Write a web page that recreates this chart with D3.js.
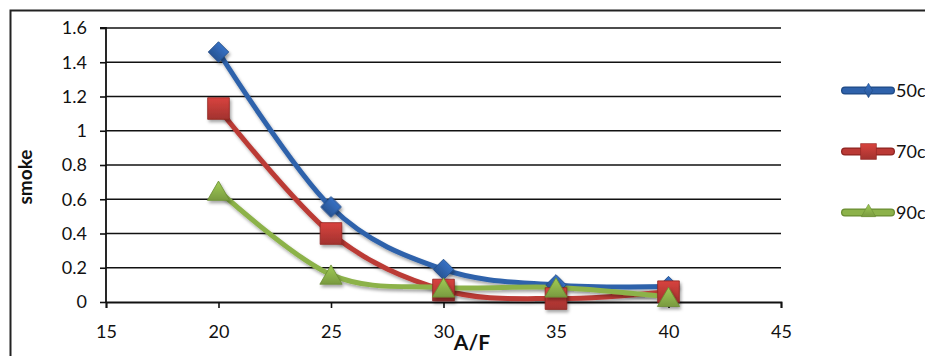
<!DOCTYPE html>
<html>
<head>
<meta charset="utf-8">
<script src="https://cdn.jsdelivr.net/npm/d3@7/dist/d3.min.js"></script>
<style>
  html, body { margin: 0; padding: 0; background: #fff; }
  svg { display: block; }
  text { font-family: Lato, "Open Sans", sans-serif; fill: #111; }
</style>
</head>
<body>
<svg id="chart" width="925" height="356"></svg>
<script>
// A/F ratio on x, smoke on y
const afRatio = [20, 25, 30, 35, 40];
const smoke50 = [1.46, 0.555, 0.19, 0.10, 0.09];
const smoke70 = [1.13, 0.40, 0.07, 0.02, 0.06];
const smoke90 = [0.65, 0.16, 0.085, 0.085, 0.03];
const seriesNames = ["50c", "70c", "90c"];
const xTicks = [15, 20, 25, 30, 35, 40, 45];
const yTicks = [0, 0.2, 0.4, 0.6, 0.8, 1, 1.2, 1.4, 1.6];

const seriesValues = [smoke50, smoke70, smoke90];
const colors = ["#2f62ab", "#bb3a36", "#8cb24a"];
const darkColors = ["#1f4a85", "#8e2421", "#6a8c32"];

const svg = d3.select("#chart");

const defs = svg.append("defs");
const shadow = defs.append("filter").attr("id", "shadow")
  .attr("x", "-30%").attr("y", "-30%").attr("width", "160%").attr("height", "160%");
shadow.append("feDropShadow").attr("dx", 1.5).attr("dy", 2.5)
  .attr("stdDeviation", 1.6).attr("flood-color", "#000").attr("flood-opacity", 0.35);

colors.forEach((c, i) => {
  const g = defs.append("linearGradient").attr("id", "grad" + i)
    .attr("x1", 0).attr("y1", 0).attr("x2", 0).attr("y2", 1);
  g.append("stop").attr("offset", "0%").attr("stop-color", d3.color(c).brighter(0.4));
  g.append("stop").attr("offset", "100%").attr("stop-color", d3.color(c).darker(0.4));
});

// marker shapes: diamond = rotated square, square, triangle (bbox-centred)
function markerPath(i, scale) {
  if (i === 0) return d3.symbol().type(d3.symbolSquare).size(210 * scale * scale)();
  if (i === 1) return d3.symbol().type(d3.symbolSquare).size(470 * scale * scale)();
  return d3.symbol().type(d3.symbolTriangle).size(215 * scale * scale)();
}
function markerTransform(i, cx, cy, scale) {
  if (i === 0) return `translate(${cx},${cy}) rotate(45)`;
  if (i === 2) {
    const h = Math.sqrt(215 * scale * scale / (Math.sqrt(3) * 3));
    return `translate(${cx},${cy + h / 2})`;
  }
  return `translate(${cx},${cy})`;
}

// outer chart frame
svg.append("rect")
  .attr("x", 10.5).attr("y", 10.5)
  .attr("width", 940).attr("height", 360)
  .attr("fill", "none").attr("stroke", "#222").attr("stroke-width", 2);

const x = d3.scaleLinear().domain([15, 45]).range([106, 781]);
const y = d3.scaleLinear().domain([0, 1.6]).range([302, 28]);

// horizontal gridlines
svg.append("g")
  .selectAll("line")
  .data(yTicks.filter(v => v > 0))
  .join("line")
  .attr("x1", x(15)).attr("x2", x(45))
  .attr("y1", d => y(d)).attr("y2", d => y(d))
  .attr("stroke", "#111").attr("stroke-width", 1.6);

// axes
const yAxis = svg.append("g")
  .attr("transform", `translate(${x(15)},0)`)
  .call(d3.axisLeft(y).tickValues(yTicks).tickFormat(d3.format("")).tickSize(6).tickPadding(13));
const xAxis = svg.append("g")
  .attr("transform", `translate(0,${y(0)})`)
  .call(d3.axisBottom(x).tickValues(xTicks).tickSize(6).tickPadding(17));

[yAxis, xAxis].forEach(a => {
  a.select(".domain").attr("stroke", "#111").attr("stroke-width", 1.8);
  a.selectAll(".tick line").attr("stroke", "#111").attr("stroke-width", 1.6);
  a.selectAll(".tick text")
    .style("font-family", "Lato, 'Open Sans', sans-serif")
    .style("font-size", "18px").attr("fill", "#111");
});
yAxis.select(".domain").attr("d", `M-6,${y(1.6)}H0V${y(0)}`);

// axis titles
svg.append("text")
  .attr("transform", `translate(32,177) rotate(-90)`)
  .attr("text-anchor", "middle")
  .style("font-size", "19px").style("font-weight", "bold")
  .text("smoke");
svg.append("text")
  .attr("x", 472).attr("y", 350)
  .attr("text-anchor", "middle")
  .style("font-size", "21px").style("font-weight", "bold")
  .text("A/F");

// smoothed series lines
const line = d3.line()
  .x(d => x(d[0])).y(d => y(d[1]))
  .curve(d3.curveCardinal.tension(0));

const series = svg.append("g");
seriesValues.forEach((vals, i) => {
  const pts = afRatio.map((a, k) => [a, vals[k]]);
  series.append("g").attr("filter", "url(#shadow)")
    .append("path")
    .datum(pts)
    .attr("d", line)
    .attr("fill", "none")
    .attr("stroke", colors[i])
    .attr("stroke-width", 5)
    .attr("stroke-linejoin", "round")
    .attr("stroke-linecap", "round");
});
seriesValues.forEach((vals, i) => {
  const pts = afRatio.map((a, k) => [a, vals[k]]);
  series.append("g").attr("filter", "url(#shadow)")
    .selectAll("path")
    .data(pts)
    .join("path")
    .attr("transform", d => markerTransform(i, x(d[0]), y(d[1]), 1))
    .attr("d", markerPath(i, 1))
    .attr("fill", `url(#grad${i})`)
    .attr("stroke", darkColors[i]).attr("stroke-width", 0.8);
});

// legend
const legend = svg.append("g");
seriesNames.forEach((name, i) => {
  const ly = 90.5 + i * 61;
  const g = legend.append("g");
  g.append("line")
    .attr("x1", 845).attr("x2", 891)
    .attr("y1", ly).attr("y2", ly)
    .attr("stroke", darkColors[i]).attr("stroke-width", 8)
    .attr("stroke-linecap", "round");
  g.append("line")
    .attr("x1", 845).attr("x2", 891)
    .attr("y1", ly).attr("y2", ly)
    .attr("stroke", colors[i]).attr("stroke-width", 5.5)
    .attr("stroke-linecap", "round");
  let shape;
  if (i === 0) {
    shape = d3.symbol().type(d3.symbolDiamond).size(60)();
  } else if (i === 1) {
    shape = d3.symbol().type(d3.symbolSquare).size(250)();
  } else {
    shape = d3.symbol().type(d3.symbolTriangle).size(90)();
  }
  g.append("path")
    .attr("transform", `translate(868.5,${ly + (i === 2 ? 0 : 0)})`)
    .attr("d", shape)
    .attr("fill", `url(#grad${i})`)
    .attr("stroke", darkColors[i]).attr("stroke-width", 0.6);
  g.append("text")
    .attr("x", 896).attr("y", ly + 6.5)
    .style("font-size", "18px")
    .text(name);
});
</script>
</body>
</html>
